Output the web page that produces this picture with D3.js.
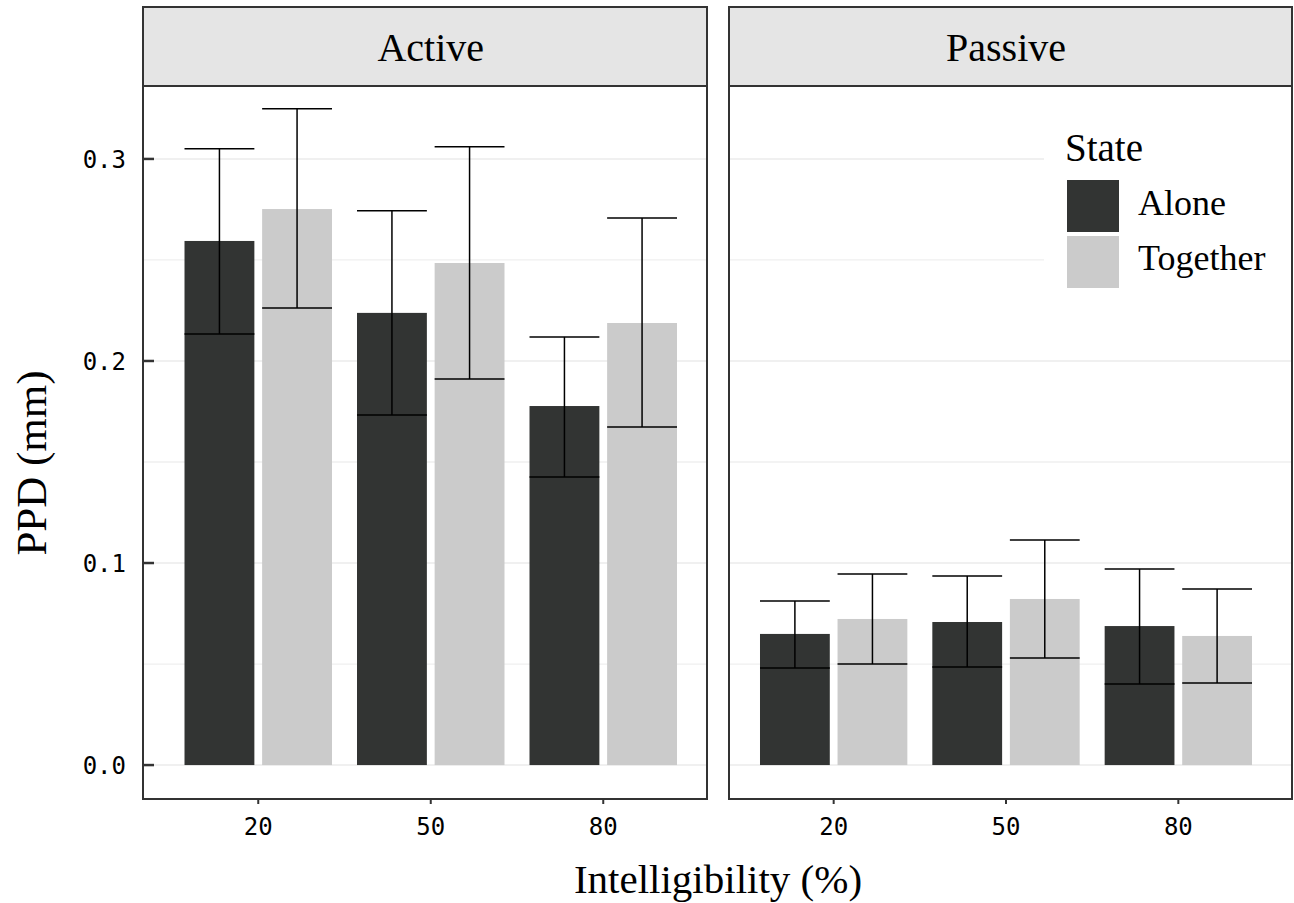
<!DOCTYPE html>
<html>
<head>
<meta charset="utf-8">
<script src="https://cdn.jsdelivr.net/npm/d3@7"></script>
<style>
	body { margin: 0; background: #fff; }
	text.serif { font-family: "Liberation Serif", "DejaVu Serif", serif; fill: #000; }
	text.mono { font-family: "DejaVu Sans Mono", monospace; fill: #000; }
</style>
</head>
<body>
<svg id="chart" width="1294" height="903"></svg>
<script>

// data
var panels = ['Active', 'Passive'];
var categories = ['20', '50', '80'];
var states = ['Alone', 'Together'];
var yTicks = [0.0, 0.1, 0.2, 0.3];
var yMinor = [0.05, 0.15, 0.25];

var activeAlone      = [0.2594, 0.2238, 0.1777];
var activeAloneLow   = [0.2134, 0.1733, 0.1426];
var activeAloneHigh  = [0.3050, 0.2743, 0.2119];
var activeTogether     = [0.2752, 0.2485, 0.2188];
var activeTogetherLow  = [0.2262, 0.1911, 0.1673];
var activeTogetherHigh = [0.3248, 0.3060, 0.2708];

var passiveAlone      = [0.0649, 0.0708, 0.0688];
var passiveAloneLow   = [0.0480, 0.0485, 0.0401];
var passiveAloneHigh  = [0.0812, 0.0936, 0.0970];
var passiveTogether     = [0.0723, 0.0822, 0.0639];
var passiveTogetherLow  = [0.0500, 0.0530, 0.0406];
var passiveTogetherHigh = [0.0946, 0.1114, 0.0871];

var stateColors = ['#323433', '#cbcbcb'];

var series = {
	Active: {
		Alone: [activeAlone, activeAloneLow, activeAloneHigh],
		Together: [activeTogether, activeTogetherLow, activeTogetherHigh]
	},
	Passive: {
		Alone: [passiveAlone, passiveAloneLow, passiveAloneHigh],
		Together: [passiveTogether, passiveTogetherLow, passiveTogetherHigh]
	}
};

// layout
var svg = d3.select('#chart');
var stripTop = 7, stripBottom = 86, panelBottom = 799;
var panelBox = [ { x0: 143, x1: 707, range: [172, 689.5] },
				 { x0: 729, x1: 1292, range: [747.5, 1264.5] } ];

var y = d3.scaleLinear().domain([-0.0168, 0.3361]).range([panelBottom, stripBottom]);
var color = d3.scaleOrdinal().domain(states).range(stateColors);

panels.forEach(function(p, pi){
	var box = panelBox[pi];
	var g = svg.append('g');

	var x = d3.scaleBand().domain(categories).range(box.range);
	var step = x.step();
	var x1 = d3.scaleBand().domain(states).range([-step*0.45, step*0.45]);
	var barW = x1.bandwidth()*0.9;

	// grid
	g.selectAll('line.minor').data(yMinor).enter().append('line')
		.attr('x1', box.x0).attr('x2', box.x1)
		.attr('y1', function(d){ return y(d); })
		.attr('y2', function(d){ return y(d); })
		.attr('stroke', '#efefef').attr('stroke-width', 1.3);
	g.selectAll('line.major').data(yTicks).enter().append('line')
		.attr('x1', box.x0).attr('x2', box.x1)
		.attr('y1', function(d){ return y(d); })
		.attr('y2', function(d){ return y(d); })
		.attr('stroke', '#ebebeb').attr('stroke-width', 1.5);

	// bars + error bars
	states.forEach(function(s){
		var vals = series[p][s];
		var cx = function(i){ return x(categories[i]) + step/2 + x1(s) + x1.bandwidth()/2; };
		g.selectAll(null).data(vals[0]).enter().append('rect')
			.attr('x', function(d, i){ return cx(i) - barW/2; })
			.attr('y', function(d){ return y(d); })
			.attr('width', barW)
			.attr('height', function(d){ return y(0) - y(d); })
			.attr('fill', color(s));

		vals[0].forEach(function(d, i){
			var c = cx(i), lo = y(vals[1][i]), hi = y(vals[2][i]);
			mkline(g, c, lo, c, hi);
			mkline(g, c - barW/2, lo, c + barW/2, lo);
			mkline(g, c - barW/2, hi, c + barW/2, hi);
		});
	});

	// panel border
	g.append('rect')
		.attr('x', box.x0).attr('y', stripBottom)
		.attr('width', box.x1 - box.x0).attr('height', panelBottom - stripBottom)
		.attr('fill', 'none').attr('stroke', '#333').attr('stroke-width', 2);

	// strip
	g.append('rect')
		.attr('x', box.x0).attr('y', stripTop)
		.attr('width', box.x1 - box.x0).attr('height', stripBottom - stripTop)
		.attr('fill', '#e5e5e5').attr('stroke', '#333').attr('stroke-width', 2);
	g.append('text').attr('class', 'serif')
		.attr('x', (box.range[0] + box.range[1])/2).attr('y', 61)
		.attr('text-anchor', 'middle')
		.style('font-size', '40px')
		.text(p);

	// x axis ticks + labels
	categories.forEach(function(c){
		var cx = x(c) + step/2;
		g.append('line')
			.attr('x1', cx).attr('x2', cx)
			.attr('y1', panelBottom).attr('y2', panelBottom + 5)
			.attr('stroke', '#333').attr('stroke-width', 2);
		g.append('text').attr('class', 'mono')
			.attr('x', cx).attr('y', 835)
			.attr('text-anchor', 'middle')
			.style('font-size', '24px')
			.text(c);
	});

	// y axis only on the first panel, ticks inward
	if(pi == 0)
	{
		yTicks.forEach(function(t){
			g.append('line')
				.attr('x1', box.x0).attr('x2', box.x0 + 11)
				.attr('y1', y(t)).attr('y2', y(t))
				.attr('stroke', '#333').attr('stroke-width', 2.5);
			g.append('text').attr('class', 'mono')
				.attr('x', 126).attr('y', y(t))
				.attr('dy', '0.36em')
				.attr('text-anchor', 'end')
				.style('font-size', '24px')
				.text(d3.format('.1f')(t));
		});
	}

	// legend sits in the second panel
	if(pi == 1)
	{
		var lg = g.append('g');
		lg.append('rect')
			.attr('x', 1044).attr('y', 118)
			.attr('width', box.x1 - 1045).attr('height', 185)
			.attr('fill', '#fff');
		lg.append('text').attr('class', 'serif')
			.attr('x', 1065).attr('y', 161)
			.style('font-size', '39px')
			.text('State');
		states.forEach(function(s, si){
			lg.append('rect')
				.attr('x', 1067).attr('y', 180 + si*56)
				.attr('width', 52).attr('height', 52)
				.attr('fill', color(s));
			lg.append('text').attr('class', 'serif')
				.attr('x', 1138).attr('y', 215 + si*55)
				.style('font-size', '36px')
				.text(s);
		});
	}
});

// axis titles
svg.append('text').attr('class', 'serif')
	.attr('x', 718).attr('y', 893)
	.attr('text-anchor', 'middle')
	.style('font-size', '41px')
	.text('Intelligibility (%)');
svg.append('text').attr('class', 'serif')
	.attr('transform', 'translate(46,463) rotate(-90)')
	.attr('text-anchor', 'middle')
	.style('font-size', '43px')
	.text('PPD (mm)');

function mkline(g, x, y, tox, toy)
{
	g.append('line')
		.attr('x1', x).attr('y1', y)
		.attr('x2', tox).attr('y2', toy)
		.attr('stroke', '#000')
		.attr('stroke-width', 1.5);
}

</script>
</body>
</html>
